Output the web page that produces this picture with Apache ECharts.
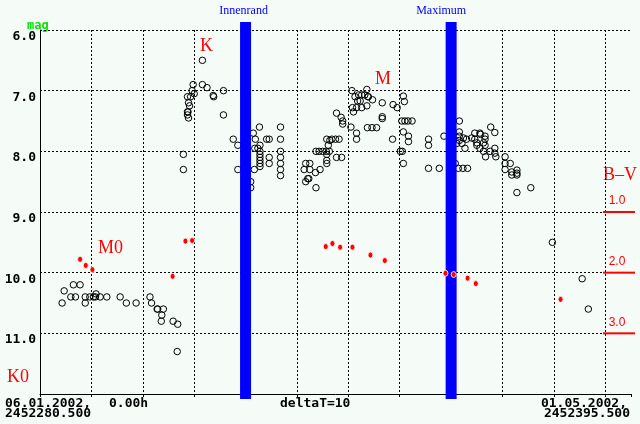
<!DOCTYPE html>
<html><head><meta charset="utf-8">
<script src="https://cdn.jsdelivr.net/npm/echarts@6/dist/echarts.min.js"></script>
<style>html,body{margin:0;padding:0;background:#f5fbf7}#c{width:640px;height:424px}</style>
</head><body><div id="c"></div>
<script>
// Visual magnitude estimates: days after JD 2452280.5, magnitude
const obsDay = [
 4.3,4.7,6.0,6.5,6.9,7.8,8.8,8.8,9.7,10.4,10.8,10.9,11.7,13.0,15.6,16.8,18.7,21.4,21.7,22.8,22.9,24.0,23.7,23.6,25.9,26.8,26.7,
 27.9,27.9,29.8,29.6,30.0,28.7,29.3,28.9,29.1,28.7,28.8,28.7,28.9,31.6,31.6,32.5,33.7,33.8,35.7,35.7,
 37.6,38.5,38.5,41.5,42.7,41.9,44.1,44.6,46.8,46.8,41.8,42.4,42.8,42.8,42.8,42.8,42.8,42.8,42.8,41.7,44.6,44.6,46.8,46.8,46.8,46.8,46.8,41.0,41.0,
 51.7,52.5,51.4,52.5,54.5,53.6,52.1,52.3,51.7,53.7,53.7,54.3,55.0,55.7,56.3,55.8,55.8,55.8,56.1,56.4,55.8,56.8,57.5,58.2,57.7,58.7,57.7,58.6,58.9,58.9,60.5,61.6,61.6,
 60.7,61.3,62.0,62.6,63.2,63.6,63.8,63.9,64.7,62.3,61.8,63.6,60.8,61.6,62.6,61.0,66.6,66.6,66.6,63.7,64.6,65.5,68.6,68.7,69.5,70.7,70.9,70.4,71.0,71.6,72.4,70.7,71.7,71.7,70.1,70.5,70.7,
 75.6,75.6,75.6,77.7,78.6,81.6,81.6,81.6,81.6,81.1,82.1,80.8,81.4,82.3,83.2,82.4,83.0,84.0,84.6,85.6,85.7,86.6,84.6,86.6,85.0,86.3,85.0,86.6,85.6,82.7,86.3,87.6,86.7,87.7,88.5,88.5,88.5,88.7,90.5,90.5,91.5,90.5,91.8,92.8,92.8,91.8,92.8,95.5,92.8,
 99.7,105.5,106.7
];
const obsMag = [
 10.5,10.3,10.4,10.2,10.4,10.2,10.4,10.5,10.4,10.4,10.4,10.35,10.4,10.4,10.4,10.5,10.5,10.4,10.5,10.6,10.6,10.6,10.7,10.8,10.8,10.85,11.3,
 8.05,8.3,6.9,7.0,7.05,7.1,7.1,7.2,7.25,7.35,7.35,7.4,7.45,6.5,6.9,6.95,7.08,7.1,7.0,7.4,
 7.8,7.9,8.3,7.7,7.6,7.8,7.8,7.8,7.6,7.8,7.95,7.95,7.9,8.0,8.05,8.1,8.15,8.2,8.25,8.3,8.1,8.2,8.0,8.1,8.2,8.3,8.4,8.5,8.6,
 8.2,8.2,8.3,8.3,8.3,8.35,8.45,8.45,8.5,8.6,8.0,8.0,8.0,8.0,8.0,8.05,8.15,8.2,7.9,7.82,7.8,7.8,7.8,7.8,8.1,8.1,7.37,7.44,7.5,7.55,7.6,7.7,7.8,
 7.0,7.1,7.07,7.07,7.07,6.98,7.1,7.1,7.15,7.17,7.17,7.25,7.28,7.28,7.28,7.35,7.2,7.43,7.46,7.61,7.61,7.61,7.8,7.23,7.28,7.09,7.18,7.5,7.5,7.5,7.5,7.68,7.75,7.84,8.0,8.0,8.2,
 7.8,7.9,8.28,8.28,7.75,7.5,7.68,7.75,7.82,7.87,7.87,8.2,8.28,8.28,8.28,7.78,7.8,7.78,7.7,7.7,7.72,7.75,7.8,7.8,7.86,7.86,7.9,7.9,7.95,7.95,8.0,8.0,8.09,7.6,7.69,7.95,8.03,8.09,8.09,8.2,8.2,8.3,8.34,8.31,8.36,8.39,8.39,8.6,8.68,
 9.5,10.1,10.6
];
// B-V colour index estimates
const bvDay   = [7.8,8.9,10.2,25.8,28.3,29.6,55.6,56.9,58.4,60.8,64.3,67.1,78.9,80.5,83.2,84.8,101.3];
const bvValue = [1.78,1.88,1.95,2.06,1.48,1.47,1.57,1.52,1.58,1.58,1.71,1.80,2.01,2.03,2.09,2.18,2.44];
// events
const eventNames = ['Innenrand','Maximum'];
const eventDays  = [40, 80];
// B-V scale marks
const bvScaleTicks = [1.0, 2.0, 3.0];
// axis ranges
const dayMin = 0, dayMax = 115, dayStep = 10;
const magMin = 6, magMax = 12;
const bvMin = -2, bvMax = 4;
// text labels
const startDate = '06.01.2002,', startJD = '2452280.500', startTime = '0.00h';
const endDate = '01.05.2002,', endJD = '2452395.500';
const deltaLabel = 'deltaT=10';
const phaseLabels = ['K','M','M0','K0','B\u2013V'];

const chart = echarts.init(document.getElementById('c'), null, {renderer:'canvas'});
const mono = '"DejaVu Sans Mono"';
const dotted = {color:'#000', width:1, type:[2,2]};
const labelShift = [-2, -10];
const phasePos = [[200,37],[375,70],[98,239],[7,368],[603,166]];

chart.setOption({
  animation:false,
  backgroundColor:'#f5fbf7',
  grid:{left:40, right:9, top:30, bottom:30, outerBoundsMode:'none', containLabel:false},
  xAxis:{type:'value', min:dayMin, max:dayMax, interval:dayStep,
    axisLine:{show:true, onZero:false, lineStyle:{color:'#000', width:1}},
    axisTick:{show:true, length:3, lineStyle:{color:'#000'}},
    axisLabel:{show:false},
    splitLine:{show:true, showMinLine:false, showMaxLine:false, lineStyle:dotted}},
  yAxis:[
    {type:'value', min:magMin, max:magMax, interval:1, inverse:true,
     axisLine:{show:true, lineStyle:{color:'#000', width:1}},
     axisTick:{show:false},
     axisLabel:{show:true, showMaxLabel:false, margin:4, verticalAlign:'top', color:'#000',
       fontFamily:'DejaVu Sans Mono', fontWeight:'bold', fontSize:13,
       formatter:v=>v.toFixed(1)},
     splitLine:{show:true, showMinLine:true, showMaxLine:false, lineStyle:dotted}},
    {type:'value', min:bvMin, max:bvMax, inverse:true, show:false, splitLine:{show:false}}
  ],
  series:[
    {type:'scatter', silent:true, z:2, symbol:'circle', symbolSize:6.5,
     data: obsDay.map((d,i)=>[d, obsMag[i]]),
     itemStyle:{color:'rgba(0,0,0,0)', borderColor:'#000', borderWidth:1, opacity:1}},
    {type:'custom', silent:true, z:3, clip:false,
     data: eventDays.map(d=>[d, magMin]),
     renderItem:(params, api)=>{
       const pt = api.coord([api.value(0), magMin]);
       const pb = api.coord([api.value(0), magMax]);
       const x = pt[0];
       return {type:'group', children:[
         {type:'rect', shape:{x:x-5.5, y:pt[1]-8, width:11, height:pb[1]-pt[1]+13}, style:{fill:'#0000ff'}},
         {type:'text', x:x+labelShift[params.dataIndex], y:pt[1]-19,
          style:{text:eventNames[params.dataIndex], fill:'#0000ff', font:'12px "Liberation Serif"', align:'center', verticalAlign:'middle'}}
       ]};
     }},
    {type:'scatter', silent:true, z:4, yAxisIndex:1, symbol:'circle', symbolSize:[5,6],
     data: bvDay.map((d,i)=>[d, bvValue[i]]),
     itemStyle:{color:'#ff0000', borderColor:'#ffffff', borderWidth:0.8, opacity:1}},
    {type:'custom', silent:true, z:4, clip:false, yAxisIndex:1,
     data: bvScaleTicks.map(v=>[dayMax, v]),
     renderItem:(params, api)=>{
       const p = api.coord([api.value(0), api.value(1)]);
       return {type:'group', children:[
         {type:'line', shape:{x1:p[0]-28, y1:p[1], x2:p[0]+4, y2:p[1]}, style:{stroke:'#ff0000', lineWidth:2}},
         {type:'text', x:p[0]-14, y:p[1]-5,
          style:{text:api.value(1).toFixed(1), fill:'#ff0000', font:'12px "Liberation Sans"', align:'center', verticalAlign:'bottom'}}
       ]};
     }}
  ],
  graphic:[
    {type:'text', x:27, y:20, silent:true, style:{text:'mag', fill:'#00e600', font:'bold 12px '+mono}},
    ...phaseLabels.map((t,i)=>({type:'text', x:phasePos[i][0], y:phasePos[i][1], silent:true,
        style:{text:t, fill:'#ff0000', font:'18px "Liberation Serif"'}})),
    {type:'text', x:5, y:397, silent:true, style:{text:startDate, fill:'#000', font:'bold 13px '+mono}},
    {type:'text', x:5, y:407, silent:true, style:{text:startJD, fill:'#000', font:'bold 13px '+mono}},
    {type:'text', x:109, y:397, silent:true, style:{text:startTime, fill:'#000', font:'bold 13px '+mono}},
    {type:'text', x:280, y:397, silent:true, style:{text:deltaLabel, fill:'#000', font:'bold 13px '+mono}},
    {type:'text', x:627, y:397, silent:true, style:{text:endDate, fill:'#000', font:'bold 13px '+mono, align:'right'}},
    {type:'text', x:630, y:407, silent:true, style:{text:endJD, fill:'#000', font:'bold 13px '+mono, align:'right'}}
  ]
});
</script></body></html>
